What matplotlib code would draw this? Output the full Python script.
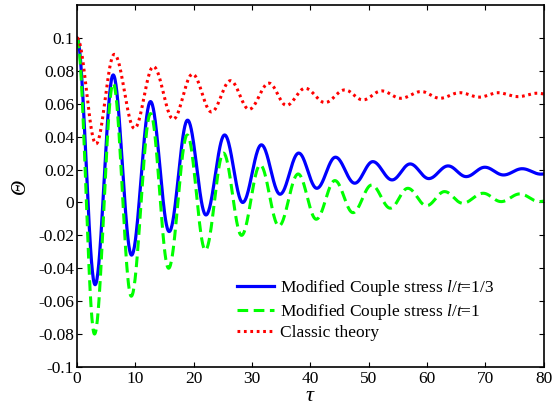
import numpy as np
import matplotlib
matplotlib.use("Agg")
import matplotlib.pyplot as plt

# extrema (tau, Theta)
t_blue = [0, 3.1, 6.2, 9.35, 12.6, 15.8, 18.95, 22.1, 25.3, 28.4, 31.6, 34.8, 38.0,
          41.1, 44.3, 47.6, 50.7, 54.0, 57.1, 60.3, 63.6, 66.7, 69.9, 73.1, 76.3, 79.5, 80]
y_blue = [0.1, -0.050, 0.0775, -0.032, 0.0613, -0.0177, 0.050, -0.0076, 0.041, 0.0,
          0.035, 0.005, 0.030, 0.0086, 0.0275, 0.0117, 0.0248, 0.0137, 0.0234, 0.0145,
          0.0222, 0.0157, 0.0214, 0.0167, 0.0205, 0.0172, 0.0173]

t_green = [0, 3.0, 6.2, 9.3, 12.6, 15.7, 18.9, 22.0, 25.1, 28.2, 31.4, 34.6, 37.9,
           41.0, 44.2, 47.3, 50.5, 53.7, 56.7, 59.9, 63.0, 66.1, 69.6, 72.7, 75.9, 79.2, 80]
y_green = [0.1, -0.080, 0.0724, -0.057, 0.054, -0.040, 0.041, -0.029, 0.030, -0.020,
           0.0228, -0.0143, 0.0173, -0.0102, 0.0133, -0.0062, 0.0106, -0.0035, 0.0086,
           -0.002, 0.0066, -0.0005, 0.0056, 0.0005, 0.0052, 0.0005, 0.0008]

t_red = [0, 3.25, 6.4, 9.85, 13.1, 16.5, 19.8, 23.05, 26.3, 29.5, 32.9, 35.9, 39.1,
         42.5, 45.9, 49.0, 52.2, 55.5, 59.0, 62.2, 65.6, 69.0, 72.1, 75.6, 78.9, 80]
y_red = [0.1, 0.0356, 0.090, 0.045, 0.0826, 0.0506, 0.078, 0.055, 0.074, 0.0566,
         0.0725, 0.059, 0.0694, 0.0607, 0.0684, 0.0623, 0.0678, 0.0633, 0.0674, 0.0633,
         0.0667, 0.064, 0.0667, 0.0643, 0.0664, 0.066]

labels = [r"Modified Couple stress $l/t$=1/3",
          r"Modified Couple stress $l/t$=1",
          "Classic theory"]
xticks = [0, 10, 20, 30, 40, 50, 60, 70, 80]
yticks = [-0.1, -0.08, -0.06, -0.04, -0.02, 0, 0.02, 0.04, 0.06, 0.08, 0.1]
ytick_labels = ["-0.1", "-0.08", "-0.06", "-0.04", "-0.02", "0",
                "0.02", "0.04", "0.06", "0.08", "0.1"]


def smooth_through(t_ext, y_ext, n=40):
    """Join successive extrema with half-cosine arcs."""
    ts, ys = [], []
    for i in range(len(t_ext) - 1):
        s = np.linspace(0, 1, n, endpoint=False)
        w = (1 - np.cos(np.pi * s)) / 2
        ts.append(t_ext[i] + (t_ext[i + 1] - t_ext[i]) * s)
        ys.append(y_ext[i] + (y_ext[i + 1] - y_ext[i]) * w)
    ts.append([t_ext[-1]])
    ys.append([y_ext[-1]])
    return np.concatenate(ts), np.concatenate(ys)


plt.rcParams['font.family'] = ['Liberation Serif', 'DejaVu Serif']
plt.rcParams['mathtext.fontset'] = 'custom'
plt.rcParams['mathtext.rm'] = 'Liberation Serif'
plt.rcParams['mathtext.it'] = 'Liberation Serif:italic'

fig = plt.figure(figsize=(5.56, 4.09), dpi=100)
ax = fig.add_axes([0.1385, 0.1027, 0.8395, 0.8851])

tb, yb = smooth_through(t_blue, y_blue)
tg, yg = smooth_through(t_green, y_green)
tr, yr = smooth_through(t_red, y_red)

ax.plot(tb, yb, color='#0000ff', lw=2.3, label=labels[0])
ax.plot(tg, yg, color='#00ff00', lw=2.2, linestyle=(0, (3.5, 1.8)), label=labels[1])
ax.plot(tr, yr, color='#ff0000', lw=2.2, linestyle=(0, (0.9, 1.2)), label=labels[2])

ax.set_xlim(0, 80)
ax.set_ylim(-0.1, 0.12)
ax.set_xticks(xticks)
ax.set_yticks(yticks)
ax.set_yticklabels(ytick_labels)
ax.tick_params(direction='in', top=True, right=True, labelsize=12.5, length=3.5,
               width=0.8, pad=2)
ax.tick_params(axis='x', pad=3)
for sp in ax.spines.values():
    sp.set_linewidth(1.2)

ax.set_xlabel(r"$\tau$", fontsize=16, labelpad=0)
ax.set_ylabel("Θ", fontsize=15, fontstyle='italic', labelpad=6)

ax.legend(loc='upper left', bbox_to_anchor=(0.343, 0.245), frameon=False,
          fontsize=12.5, handlelength=2.15, handletextpad=0.3, labelspacing=0.2,
          borderaxespad=0, borderpad=0)

fig.savefig("out.png", dpi=100)
